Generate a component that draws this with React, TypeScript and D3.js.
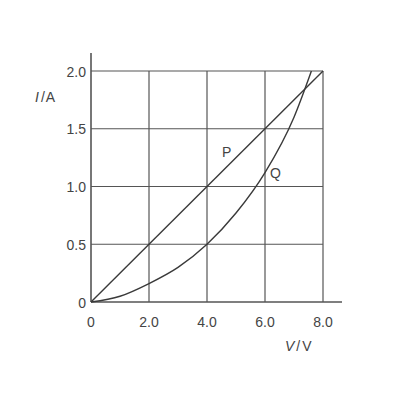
import React, { useEffect, useRef } from "react";
import * as d3 from "d3";

// values
const xTicks = [0, 2, 4, 6, 8];
const xTickLabels = ["0", "2.0", "4.0", "6.0", "8.0"];
const yTicks = [0, 0.5, 1, 1.5, 2];
const yTickLabels = ["0", "0.5", "1.0", "1.5", "2.0"];
const pV = [0, 8];
const pI = [0, 2];
const qV = [0, 1, 2, 3, 4, 5, 6, 7, 7.6];
const qI = [0, 0.05, 0.16, 0.3, 0.5, 0.77, 1.12, 1.6, 2.0];

const App = () => {
  const svgRef = useRef(null);

  useEffect(() => {
    const svg = d3.select(svgRef.current);
    svg.selectAll("*").remove();

    const x = d3.scaleLinear().domain([0, 8]).range([91, 323]);
    const y = d3.scaleLinear().domain([0, 2]).range([302, 71]);
    const ink = "#3a3a3a";
    const font = "Liberation Sans, Arial, sans-serif";
    const fs = 14;

    // grid
    yTicks.slice(1).forEach((t) => {
      svg.append("line")
        .attr("x1", x(0)).attr("x2", x(8))
        .attr("y1", y(t)).attr("y2", y(t))
        .attr("stroke", "#555").attr("stroke-width", 1.2);
    });
    xTicks.slice(1).forEach((t) => {
      svg.append("line")
        .attr("x1", x(t)).attr("x2", x(t))
        .attr("y1", y(0)).attr("y2", y(2))
        .attr("stroke", "#555").attr("stroke-width", 1.2);
    });

    // axes
    svg.append("line")
      .attr("x1", x(0)).attr("x2", x(0)).attr("y1", 53).attr("y2", y(0))
      .attr("stroke", "#555").attr("stroke-width", 1.6);
    svg.append("line")
      .attr("x1", x(0)).attr("x2", 342).attr("y1", y(0)).attr("y2", y(0))
      .attr("stroke", "#555").attr("stroke-width", 1.6);

    // P line
    const line = d3.line<[number, number]>()
      .x((d) => x(d[0])).y((d) => y(d[1]));
    svg.append("path")
      .attr("d", line(pV.map((v, i) => [v, pI[i]] as [number, number])))
      .attr("fill", "none").attr("stroke", ink).attr("stroke-width", 1.4);

    // Q curve
    const curve = d3.line<[number, number]>()
      .x((d) => x(d[0])).y((d) => y(d[1]))
      .curve(d3.curveMonotoneX);
    svg.append("path")
      .attr("d", curve(qV.map((v, i) => [v, qI[i]] as [number, number])))
      .attr("fill", "none").attr("stroke", ink).attr("stroke-width", 1.4);

    // tick labels
    xTicks.forEach((t, i) => {
      svg.append("text")
        .attr("x", x(t)).attr("y", 327)
        .attr("text-anchor", "middle")
        .attr("font-family", font).attr("font-size", fs)
        .attr("fill", "#444")
        .text(xTickLabels[i]);
    });
    yTicks.forEach((t, i) => {
      svg.append("text")
        .attr("x", 86).attr("y", y(t) + 5.5)
        .attr("text-anchor", "end")
        .attr("font-family", font).attr("font-size", fs)
        .attr("fill", "#444")
        .text(yTickLabels[i]);
    });

    // axis titles
    const yt = svg.append("text")
      .attr("x", 35).attr("y", 102)
      .attr("font-family", font).attr("font-size", fs).attr("fill", "#444");
    yt.append("tspan").attr("font-style", "italic").text("I");
    yt.append("tspan").attr("dx", 2).text("/");
    yt.append("tspan").attr("dx", 1).text("A");

    const xt = svg.append("text")
      .attr("x", 285).attr("y", 351)
      .attr("font-family", font).attr("font-size", fs).attr("fill", "#444");
    xt.append("tspan").attr("font-style", "italic").text("V");
    xt.append("tspan").attr("dx", 2).text("/");
    xt.append("tspan").attr("dx", 2).text("V");

    // curve labels
    svg.append("text")
      .attr("x", 222).attr("y", 157)
      .attr("font-family", font).attr("font-size", fs).attr("fill", "#444")
      .text("P");
    svg.append("text")
      .attr("x", 270).attr("y", 178)
      .attr("font-family", font).attr("font-size", fs).attr("fill", "#444")
      .text("Q");
  }, []);

  return (
    <svg
      ref={svgRef}
      width={400}
      height={400}
      style={{ position: "absolute", left: 0, top: 0, background: "#fff" }}
    ></svg>
  );
};

export default App;
